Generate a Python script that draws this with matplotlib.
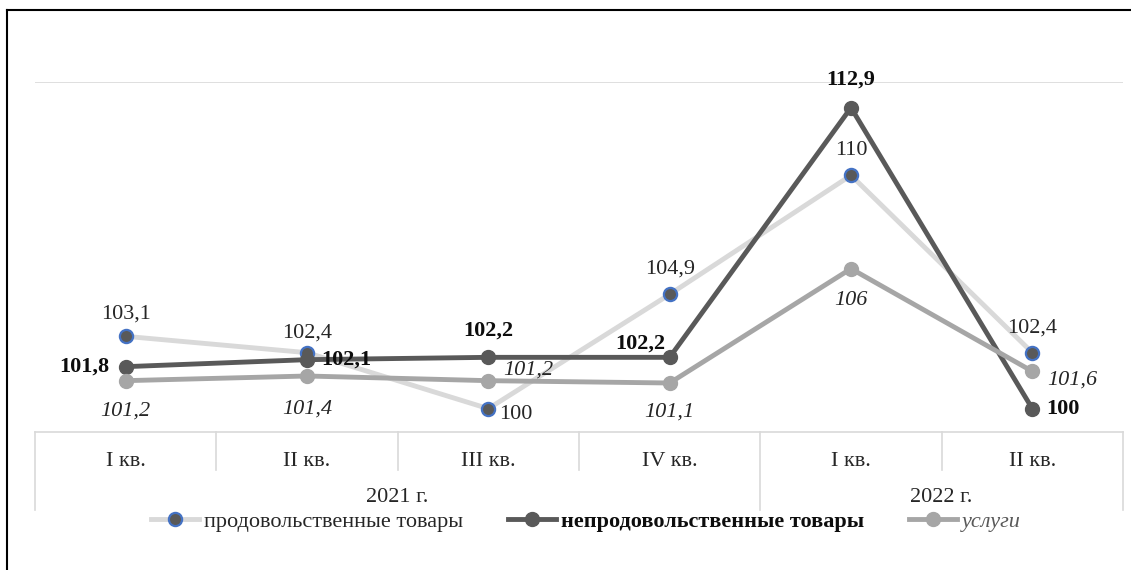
import numpy as np
import matplotlib.pyplot as plt
import matplotlib.transforms as mtransforms

# quarter labels and year groups
quarters = ["I кв.", "II кв.", "III кв.", "IV кв.", "I кв.", "II кв."]
years = ["2021 г.", "2022 г."]
year_sizes = [4, 2]

food = [103.1, 102.4, 100, 104.9, 110, 102.4]
nonfood = [101.8, 102.1, 102.2, 102.2, 112.9, 100]
services = [101.2, 101.4, 101.2, 101.1, 106, 101.6]

# label placement per point (dx, dy in points)
food_off = [(0, 16), (0, 14), (20, -4), (0, 18), (0, 18), (0, 18)]
nonfood_off = [(-30, 0), (28, 0), (0, 19), (-21, 10), (0, 20), (22, 0)]
serv_off = [(0, -22), (0, -24), (29, 8), (0, -21), (0, -23), (29, -6)]

plt.rcParams['font.family'] = ['Liberation Serif', 'DejaVu Serif']
FS = 16

fig = plt.figure(figsize=(11.31, 5.70), dpi=100)
ax = fig.add_axes([35 / 1131, 1 - 432 / 570, 1088 / 1131, 350 / 570])

x = np.arange(len(quarters))

ax.plot(x, food, color='#d9d9d9', lw=3.5, marker='o', ms=9.5,
        mfc='#595959', mec='#4472c4', mew=1.6, zorder=3,
        label='продовольственные товары')
ax.plot(x, nonfood, color='#595959', lw=3.5, marker='o', ms=10,
        mfc='#595959', mec='#595959', zorder=4,
        label='непродовольственные товары')
ax.plot(x, services, color='#a6a6a6', lw=3.5, marker='o', ms=10,
        mfc='#a6a6a6', mec='#a6a6a6', zorder=5, label='услуги')

def fmt(v):
    return ('%g' % v).replace('.', ',')

for i in range(len(x)):
    ax.annotate(fmt(food[i]), (x[i], food[i]), xytext=food_off[i],
                textcoords='offset points', ha='center', va='center',
                fontsize=FS, color='#262626', zorder=6)
    ax.annotate(fmt(nonfood[i]), (x[i], nonfood[i]), xytext=nonfood_off[i],
                textcoords='offset points', ha='center', va='center',
                fontsize=FS, fontweight='bold', color='#0d0d0d', zorder=6)
    ax.annotate(fmt(services[i]), (x[i], services[i]), xytext=serv_off[i],
                textcoords='offset points', ha='center', va='center',
                fontsize=FS, fontstyle='italic', color='#262626', zorder=6)

ax.set_xlim(-0.5, len(x) - 0.5)
ax.set_ylim(99, 114)
ax.set_yticks([114])
ax.yaxis.grid(True, color='#d9d9d9', lw=1.2)
ax.tick_params(left=False, labelleft=False, bottom=False, labelbottom=False)
for s in ['top', 'right', 'left']:
    ax.spines[s].set_visible(False)
ax.spines['bottom'].set_color('#d9d9d9')
ax.spines['bottom'].set_linewidth(1.2)

# two-level category axis
trans = mtransforms.blended_transform_factory(ax.transData, ax.transAxes)
short_y = -38 / 350
long_y = -78 / 350
bounds = np.cumsum([0] + year_sizes) - 0.5
for b in np.arange(-0.5, len(x), 1.0):
    y_end = long_y if b in bounds else short_y
    ax.plot([b, b], [0, y_end], transform=trans, color='#d9d9d9',
            lw=1.2, clip_on=False)
for i, q in enumerate(quarters):
    ax.text(i, -30 / 350, q, transform=trans, ha='center', va='center',
            fontsize=FS, color='#262626')
for j, yr in enumerate(years):
    ax.text((bounds[j] + bounds[j + 1]) / 2, -66 / 350, yr, transform=trans,
            ha='center', va='center', fontsize=FS, color='#262626')

leg = fig.legend(loc='center', bbox_to_anchor=(586 / 1131, 1 - 522 / 570),
                 ncol=3, frameon=False, fontsize=FS, handlelength=2.15,
                 columnspacing=2.0, handletextpad=0.25, borderpad=0)
texts = leg.get_texts()
texts[0].set_color('#262626')
texts[1].set_fontweight('bold')
texts[1].set_color('#0d0d0d')
texts[2].set_fontstyle('italic')
texts[2].set_color('#595959')

# outer frame
fig.add_artist(plt.Line2D([7 / 1131, 7 / 1131], [0, 1 - 10 / 570],
                          transform=fig.transFigure, color='black', lw=1.5))
fig.add_artist(plt.Line2D([7 / 1131, 1], [1 - 10 / 570, 1 - 10 / 570],
                          transform=fig.transFigure, color='black', lw=1.5))

fig.savefig('out.png', dpi=100)
